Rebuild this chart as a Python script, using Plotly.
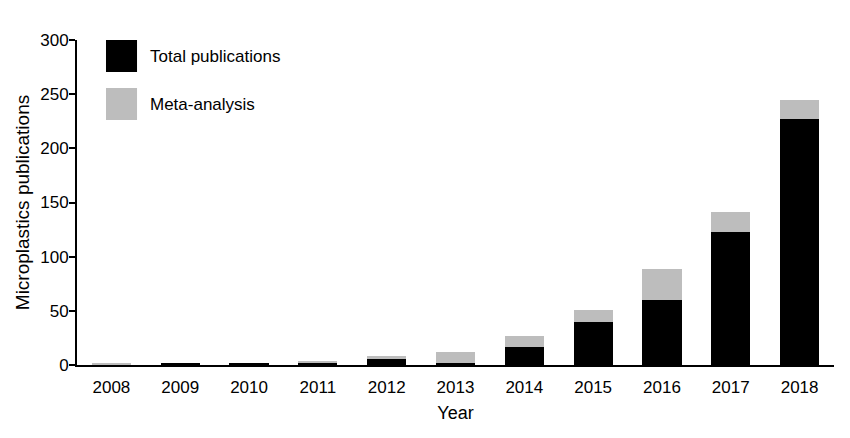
import plotly.graph_objects as go

years = ["2008", "2009", "2010", "2011", "2012", "2013", "2014", "2015", "2016", "2017", "2018"]
total_pubs = [0, 2, 1, 2, 6, 2, 17, 40, 60, 123, 227]
meta_analysis = [1, 0, 0, 1.5, 2, 10, 10, 11, 29, 18, 18]
y_ticks = [0, 50, 100, 150, 200, 250, 300]

FONT = "Liberation Sans, Arial, sans-serif"

fig = go.Figure()
fig.add_trace(go.Bar(x=years, y=total_pubs, name="Total publications",
                     marker=dict(color="#000000", line=dict(width=0)), showlegend=False))
fig.add_trace(go.Bar(x=years, y=meta_analysis, name="Meta-analysis",
                     marker=dict(color="#bdbdbd", line=dict(width=0)), showlegend=False))

# page body has an 8px default margin, so the figure is sized to fit inside it
fig.update_layout(
    width=842, height=430,
    margin=dict(l=69, r=16, t=32, b=73),
    barmode="stack", bargap=0.43,
    paper_bgcolor="white", plot_bgcolor="white",
    font=dict(family=FONT, size=17, color="black"),
    xaxis=dict(type="category", range=[-0.5, 10.5], showline=True, linecolor="black",
               linewidth=2, ticks="", showgrid=False, zeroline=False, automargin=False,
               ticklabelstandoff=6,
               title=dict(text="Year", font=dict(size=18), standoff=10),
               tickfont=dict(size=17)),
    yaxis=dict(range=[0, 300], tickvals=y_ticks, showline=True, linecolor="black",
               linewidth=2, ticks="outside", ticklen=6, tickwidth=2, tickcolor="black",
               showgrid=False, zeroline=False, automargin=False,
               ticklabelstandoff=-3,
               title=dict(text="Microplastics publications", font=dict(size=19), standoff=6),
               tickfont=dict(size=17)),
)

# legend boxes
legend_items = [("Total publications", "#000000", 1.0, 0.9015), ("Meta-analysis", "#bdbdbd", 0.852, 0.754)]
for label, color, y1, y0 in legend_items:
    fig.add_shape(type="rect", xref="paper", yref="paper", x0=0.0383, x1=0.0793,
                  y0=y0, y1=y1, fillcolor=color, line=dict(width=0))
    fig.add_annotation(xref="paper", yref="paper", x=0.0938, y=(y0 + y1) / 2,
                       text=label, showarrow=False, xanchor="left", yanchor="middle",
                       font=dict(size=17, family=FONT, color="black"))

fig.write_html("out.html")
